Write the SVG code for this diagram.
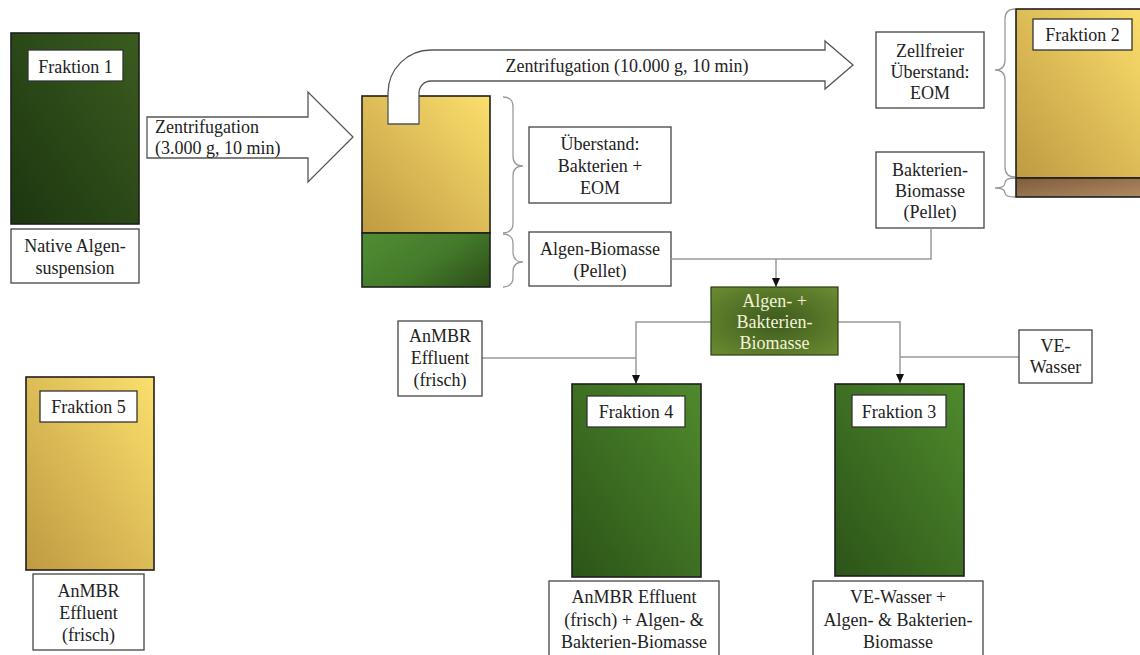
<svg xmlns="http://www.w3.org/2000/svg" width="1140" height="655" viewBox="0 0 1140 655">
<defs>
<linearGradient id="gDark" x1="0" y1="1" x2="1" y2="0"><stop offset="0" stop-color="#1c3610"/><stop offset="1" stop-color="#3a5c1f"/></linearGradient>
<linearGradient id="gMed" x1="0" y1="1" x2="1" y2="0"><stop offset="0" stop-color="#2c5418"/><stop offset="1" stop-color="#4f8a2c"/></linearGradient>
<linearGradient id="gGold" x1="0" y1="1" x2="1" y2="0"><stop offset="0" stop-color="#bf9a42"/><stop offset="1" stop-color="#fbdf6c"/></linearGradient>
<linearGradient id="gPellet" x1="0" y1="0.3" x2="1" y2="0.9"><stop offset="0" stop-color="#4e8a32"/><stop offset="0.5" stop-color="#437a2a"/><stop offset="1" stop-color="#2f501a"/></linearGradient>
<linearGradient id="gBrown" x1="0" y1="0" x2="1" y2="1"><stop offset="0" stop-color="#7e5c3c"/><stop offset="1" stop-color="#b08a62"/></linearGradient>
<radialGradient id="gOlive" cx="0.5" cy="0.5" r="0.7"><stop offset="0" stop-color="#3c5a1c"/><stop offset="1" stop-color="#6c8c32"/></radialGradient>
<marker id="ah" markerUnits="userSpaceOnUse" markerWidth="10" markerHeight="10" refX="9" refY="5" orient="auto"><path d="M0,1 L9,5 L0,9 Z" fill="#111"/></marker>
<style>
text{font-family:"Liberation Serif","Times New Roman",serif;font-size:18px;fill:#222;text-anchor:middle}
.tube{stroke:#1e1e1e;stroke-width:1.6}
.box{fill:#fff;stroke:#444;stroke-width:1.3}
.lbl{fill:#fff;stroke:#333;stroke-width:1.3}
.brace{fill:none;stroke:#9a9a9a;stroke-width:1.3}
.con{fill:none;stroke:#9a9a9a;stroke-width:1.5}
.arr{fill:none;stroke:#9a9a9a;stroke-width:1.5;marker-end:url(#ah)}
.big{fill:#fff;stroke:#555;stroke-width:1.3}
.lt{fill:#f4f2d8}
</style>
</defs>
<rect width="1140" height="655" fill="#fff"/>

<g id="fraktion1">
<rect class="tube" x="11" y="33" width="128" height="191" fill="url(#gDark)"/>
<rect class="lbl" x="28" y="50" width="95" height="31"/>
<text x="75.5" y="73">Fraktion 1</text>
<rect class="box" x="11" y="229" width="128" height="54"/>
<text x="75" y="252">Native Algen-</text>
<text x="75" y="274">suspension</text>
</g>

<g id="zentrifugation1">
<polygon class="big" points="147,117 308,117 308,92 353,137 308,182 308,158 147,158"/>
<text x="155" y="133" style="text-anchor:start">Zentrifugation</text>
<text x="155" y="154" style="text-anchor:start">(3.000 g, 10 min)</text>
</g>

<g id="tube2">
<rect class="tube" x="362" y="96" width="128" height="137" fill="url(#gGold)"/>
<rect class="tube" x="362" y="233" width="128" height="54" fill="url(#gPellet)"/>
</g>

<g id="zentrifugation2">
<path class="big" d="M388,124 L388,93 A43,43 0 0 1 431,50 L825,50 L825,41 L853,65 L825,89 L825,81 L431,81 A12,12 0 0 0 419,93 L419,124 Z"/>
<text x="627" y="72">Zentrifugation (10.000 g, 10 min)</text>
</g>

<g id="braces">
<path class="brace" d="M503,97 Q513,97 513,107 L513,156 Q513,166 523,166 Q513,166 513,176 L513,223 Q513,233 503,233"/>
<path class="brace" d="M503,234 Q513,234 513,244 L513,252 Q513,262 523,262 Q513,262 513,272 L513,277 Q513,287 503,287"/>
<path class="brace" d="M1015,9 Q1005,9 1005,19 L1005,60 Q1005,70 995,70 Q1005,70 1005,80 L1005,167 Q1005,177 1015,177"/>
<path class="brace" d="M1015,178 Q1005,178 1005,183 Q1005,188 995,188 Q1005,188 1005,193 Q1005,197 1015,197"/>
</g>

<g id="ueberstand">
<rect class="box" x="529" y="127" width="142" height="76"/>
<text x="600" y="150">Überstand:</text>
<text x="600" y="172">Bakterien +</text>
<text x="600" y="194">EOM</text>
</g>

<g id="algenbiomasse">
<rect class="box" x="529" y="232" width="142" height="54"/>
<text x="600" y="255">Algen-Biomasse</text>
<text x="600" y="277">(Pellet)</text>
</g>

<g id="zellfreier">
<rect class="box" x="876" y="32" width="108" height="76"/>
<text x="930" y="57">Zellfreier</text>
<text x="930" y="78">Überstand:</text>
<text x="930" y="99">EOM</text>
</g>

<g id="bakterienbiomasse">
<rect class="box" x="876" y="152" width="108" height="76"/>
<text x="930" y="176">Bakterien-</text>
<text x="930" y="197">Biomasse</text>
<text x="930" y="218">(Pellet)</text>
</g>

<g id="fraktion2">
<rect class="tube" x="1016" y="9" width="130" height="169" fill="url(#gGold)"/>
<rect class="tube" x="1016" y="178" width="130" height="19" fill="url(#gBrown)"/>
<rect class="lbl" x="1033" y="19" width="99" height="31"/>
<text x="1082.5" y="41">Fraktion 2</text>
</g>

<g id="connectors">
<polyline class="con" points="671,259 931,259 931,228"/>
<line class="arr" x1="776" y1="259" x2="776" y2="287"/>
<polyline class="arr" points="711,322 636,322 636,384"/>
<line class="con" x1="482" y1="358" x2="636" y2="358"/>
<polyline class="arr" points="838,322 900,322 900,383"/>
<line class="con" x1="1019" y1="357" x2="900" y2="357"/>
</g>

<g id="algenbakterien">
<rect x="711" y="287" width="127" height="68" fill="url(#gOlive)" stroke="#2c3c14" stroke-width="1.2"/>
<text class="lt" x="774.5" y="307">Algen- +</text>
<text class="lt" x="774.5" y="328">Bakterien-</text>
<text class="lt" x="774.5" y="349">Biomasse</text>
</g>

<g id="anmbr">
<rect class="box" x="398" y="321" width="84" height="75"/>
<text x="440" y="342">AnMBR</text>
<text x="440" y="364">Effluent</text>
<text x="440" y="386">(frisch)</text>
</g>

<g id="vewasser">
<rect class="box" x="1019" y="330" width="73" height="53"/>
<text x="1055.5" y="352">VE-</text>
<text x="1055.5" y="373">Wasser</text>
</g>

<g id="fraktion4">
<rect class="tube" x="572" y="384" width="129" height="193" fill="url(#gMed)"/>
<rect class="lbl" x="587" y="396" width="98" height="31"/>
<text x="636" y="418">Fraktion 4</text>
<rect class="box" x="549" y="581" width="170" height="80"/>
<text x="634" y="603">AnMBR Effluent</text>
<text x="634" y="626">(frisch) + Algen- &amp;</text>
<text x="634" y="648">Bakterien-Biomasse</text>
</g>

<g id="fraktion3">
<rect class="tube" x="835" y="384" width="129" height="192" fill="url(#gMed)"/>
<rect class="lbl" x="852" y="395" width="94" height="32"/>
<text x="899" y="418">Fraktion 3</text>
<rect class="box" x="813" y="581" width="170" height="80"/>
<text x="898" y="603">VE-Wasser +</text>
<text x="898" y="626">Algen- &amp; Bakterien-</text>
<text x="898" y="648">Biomasse</text>
</g>

<g id="fraktion5">
<rect class="tube" x="26" y="377" width="128" height="193" fill="url(#gGold)"/>
<rect class="lbl" x="40" y="391" width="97" height="31"/>
<text x="88.5" y="413">Fraktion 5</text>
<rect class="box" x="33" y="574" width="111" height="76"/>
<text x="88.5" y="597">AnMBR</text>
<text x="88.5" y="619">Effluent</text>
<text x="88.5" y="641">(frisch)</text>
</g>
</svg>
